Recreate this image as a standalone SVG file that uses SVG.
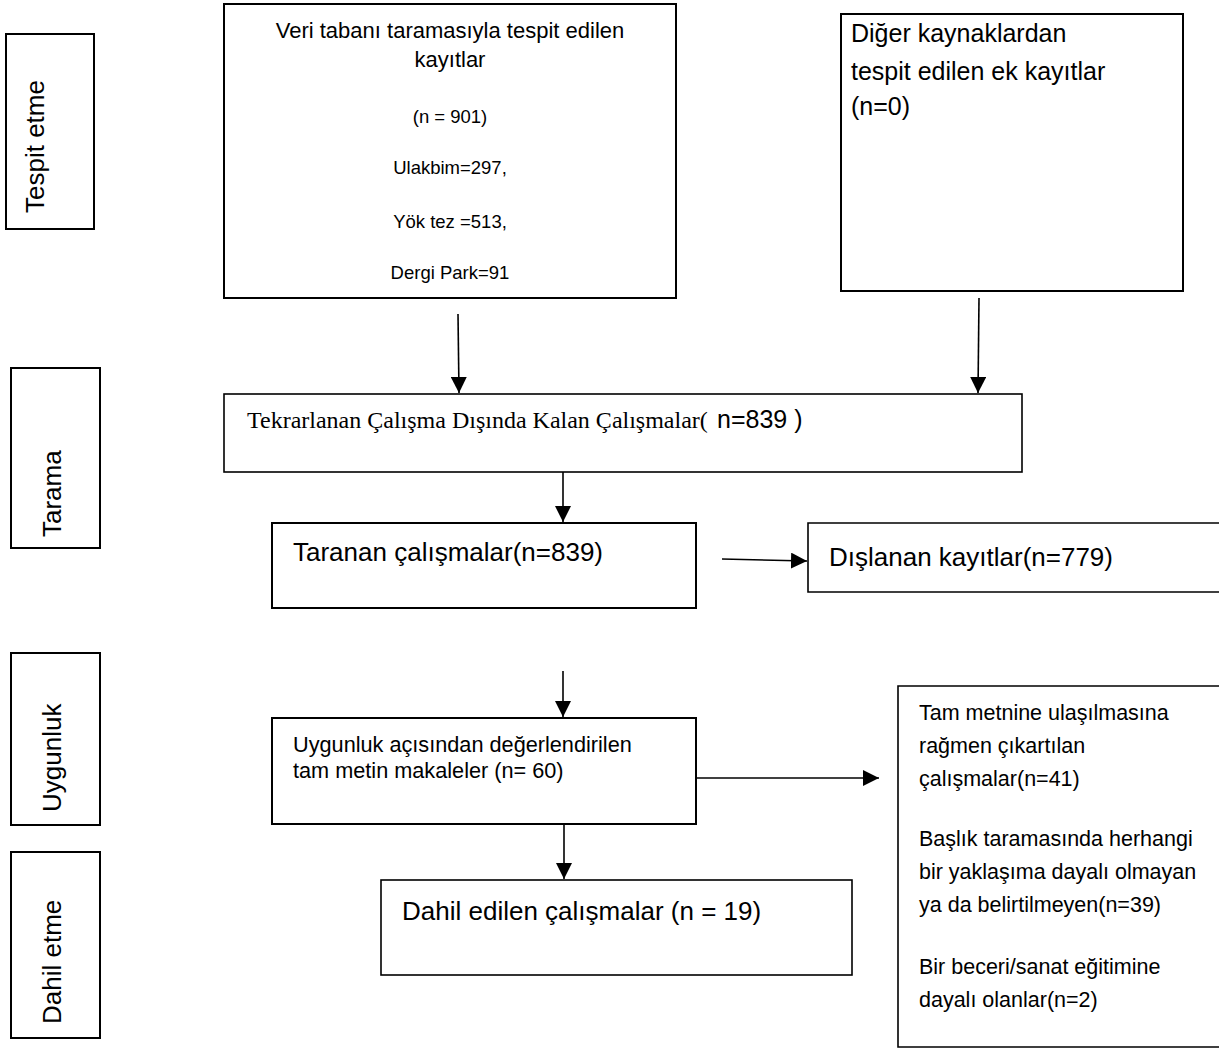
<svg xmlns="http://www.w3.org/2000/svg" width="1219" height="1050" viewBox="0 0 1219 1050">
<defs>
<style>
.box{fill:#fff;stroke:#000;stroke-width:2}
.thin{stroke-width:1.6}
.sans{font-family:"Liberation Sans",Arial,sans-serif;fill:#000}
.serif{font-family:"Liberation Serif","Times New Roman",serif;fill:#000}
.side{font-size:26px}
.big{font-size:26px}
.med{font-size:21.5px}
.small{font-size:18.5px}
.conn{stroke:#000;stroke-width:1.6;fill:none;marker-end:url(#ah)}
</style>
<marker id="ah" markerUnits="userSpaceOnUse" markerWidth="16" markerHeight="16" viewBox="0 0 16 16" refX="16" refY="8" orient="auto">
<path d="M0,0 L16,8 L0,16 Z" fill="#000"/>
</marker>
</defs>
<rect width="1219" height="1050" fill="#fff"/>

<g id="label-tespit">
<rect class="box" x="6" y="34" width="88" height="195"/>
<text class="sans side" transform="translate(44,213) rotate(-90)">Tespit etme</text>
</g>
<g id="label-tarama">
<rect class="box" x="11" y="368" width="89" height="180"/>
<text class="sans side" transform="translate(61,537) rotate(-90)">Tarama</text>
</g>
<g id="label-uygunluk">
<rect class="box" x="11" y="653" width="89" height="172"/>
<text class="sans side" transform="translate(61,812) rotate(-90)">Uygunluk</text>
</g>
<g id="label-dahil">
<rect class="box" x="11" y="852" width="89" height="186"/>
<text class="sans side" transform="translate(61,1024) rotate(-90)">Dahil etme</text>
</g>

<g id="node-veritabani">
<rect class="box" x="224" y="4" width="452" height="294"/>
<text class="sans" font-size="22" x="450" y="38" text-anchor="middle">Veri tabanı taramasıyla tespit edilen</text>
<text class="sans" font-size="22" x="450" y="67" text-anchor="middle">kayıtlar</text>
<text class="sans small" x="450" y="123" text-anchor="middle">(n = 901)</text>
<text class="sans small" x="450" y="174" text-anchor="middle">Ulakbim=297,</text>
<text class="sans small" x="450" y="228" text-anchor="middle">Yök tez =513,</text>
<text class="sans small" x="450" y="279" text-anchor="middle">Dergi Park=91</text>
</g>

<g id="node-diger">
<rect class="box" x="841" y="14" width="342" height="277"/>
<text class="sans" font-size="25" x="851" y="42">Diğer kaynaklardan</text>
<text class="sans" font-size="25" x="851" y="80">tespit edilen ek kayıtlar</text>
<text class="sans" font-size="25" x="851" y="115">(n=0)</text>
</g>

<g id="node-tekrar">
<rect class="box thin" x="224" y="394" width="798" height="78"/>
<text y="428"><tspan class="serif" font-size="24" x="247">Tekrarlanan Çalışma Dışında Kalan Çalışmalar(</tspan><tspan class="sans" font-size="25" x="717">n=839 )</tspan></text>
</g>

<g id="node-taranan">
<rect class="box" x="272" y="523" width="424" height="85"/>
<text class="sans big" x="293" y="561">Taranan çalışmalar(n=839)</text>
</g>

<g id="node-dislanan">
<path d="M1222,523 H808 V592 H1222" fill="#fff" stroke="#000" stroke-width="1.6"/>
<text class="sans big" x="829" y="566">Dışlanan kayıtlar(n=779)</text>
</g>

<g id="node-uygunluk">
<rect class="box" x="272" y="718" width="424" height="106"/>
<text class="sans" font-size="21.7" x="293" y="752">Uygunluk açısından değerlendirilen</text>
<text class="sans" font-size="21.7" x="293" y="778">tam metin makaleler (n= 60)</text>
</g>

<g id="node-cikarilan">
<path d="M1222,686 H898 V1047 H1222" fill="#fff" stroke="#000" stroke-width="1.6"/>
<text class="sans med" x="919" y="720">Tam metnine ulaşılmasına</text>
<text class="sans med" x="919" y="753">rağmen çıkartılan</text>
<text class="sans med" x="919" y="786">çalışmalar(n=41)</text>
<text class="sans med" x="919" y="846">Başlık taramasında herhangi</text>
<text class="sans med" x="919" y="879">bir yaklaşıma dayalı olmayan</text>
<text class="sans med" x="919" y="912">ya da belirtilmeyen(n=39)</text>
<text class="sans med" x="919" y="974">Bir beceri/sanat eğitimine</text>
<text class="sans med" x="919" y="1007">dayalı olanlar(n=2)</text>
</g>

<g id="node-dahil">
<rect class="box thin" x="381" y="880" width="471" height="95"/>
<text class="sans big" x="402" y="920">Dahil edilen çalışmalar (n = 19)</text>
</g>

<g id="connectors">
<line class="conn" x1="458" y1="314" x2="459" y2="393"/>
<line class="conn" x1="979" y1="298" x2="978" y2="393"/>
<line class="conn" x1="563" y1="472" x2="563" y2="522"/>
<line class="conn" x1="722" y1="559" x2="807" y2="561"/>
<line class="conn" x1="563" y1="671" x2="563" y2="717"/>
<line class="conn" x1="697" y1="778" x2="879" y2="778"/>
<line class="conn" x1="564" y1="825" x2="564" y2="879"/>
</g>
</svg>
